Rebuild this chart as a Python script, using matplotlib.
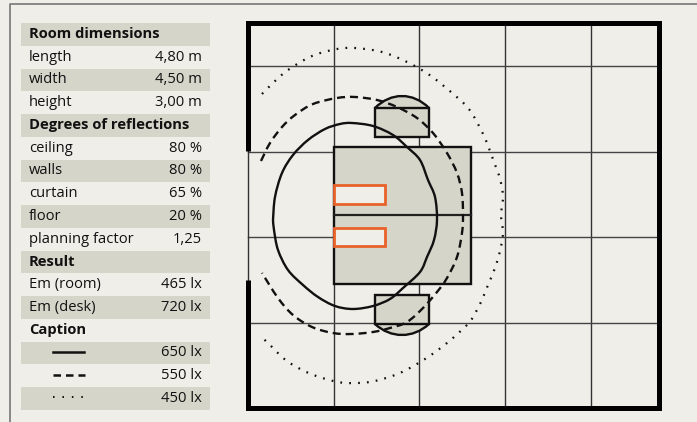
import matplotlib
matplotlib.use("Agg")
import matplotlib.pyplot as plt
from matplotlib.patches import PathPatch, Rectangle
from matplotlib.path import Path

# table
row_labels = ["Room dimensions", "length", "width", "height", "Degrees of reflections",
              "ceiling", "walls", "curtain", "floor", "planning factor", "Result",
              "Em (room)", "Em (desk)", "Caption", "", "", ""]
row_values = ["", "4,80 m", "4,50 m", "3,00 m", "", "80 %", "80 %", "65 %", "20 %", "1,25", "",
              "465 lx", "720 lx", "", "650 lx", "550 lx", "450 lx"]
bold_rows = ["Room dimensions", "Degrees of reflections", "Result", "Caption"]

# room plan, in picture pixels
grid_x = [333.5, 419, 505, 590.5]
grid_y = [66, 151.5, 237, 322.5]

solid_x = [273, 275, 282, 293, 308, 325, 340, 352, 373, 393, 407, 420, 428, 435, 437, 434, 427, 420, 403,
           390, 373, 353, 335, 318, 303, 288, 278, 274, 273]
solid_y = [220, 197, 173, 155, 140, 129, 124, 123, 126, 135, 147, 160, 180, 197, 220, 240, 257, 272, 288,
           299, 306, 309, 306, 297, 285, 270, 250, 230, 220]

dash_x = [261, 270, 282, 295, 313, 337, 355, 377, 397, 417, 433, 447, 457, 462, 463, 462, 457, 447,
          437, 423, 407, 390, 373, 352, 333, 312, 293, 278, 262]
dash_y = [161, 143, 127, 115, 104, 98, 97, 100, 107, 118, 133, 153, 173, 193, 215, 233, 257, 278,
          292, 308, 322, 328, 332, 334, 333, 327, 315, 298, 273]

dot_x = [262, 274, 288, 312, 337, 355, 382, 407, 431, 459, 471, 484, 494, 500, 503, 501, 503, 500,
         495, 488, 481, 473, 467, 447, 425, 400, 375, 357, 338, 311, 287, 267, 261]
dot_y = [94, 82, 70, 56, 49, 48, 52, 62, 76, 99, 112, 136, 162, 179, 197, 215, 233, 251,
         268, 285, 302, 317, 325, 343, 359, 373, 381, 383, 382, 374, 361, 342, 337]

bg = "#efeee9"
band = "#d5d5ca"
orange = "#e8622a"


def smooth(xs, ys):
    # catmull-rom through the read points
    pts = list(zip(xs, ys))
    verts = [pts[0]]
    codes = [Path.MOVETO]
    for i in range(len(pts) - 1):
        p0 = pts[max(i - 1, 0)]
        p1 = pts[i]
        p2 = pts[i + 1]
        p3 = pts[min(i + 2, len(pts) - 1)]
        verts.append((p1[0] + (p2[0] - p0[0]) / 6, p1[1] + (p2[1] - p0[1]) / 6))
        verts.append((p2[0] - (p3[0] - p1[0]) / 6, p2[1] - (p3[1] - p1[1]) / 6))
        verts.append(p2)
        codes += [Path.CURVE4] * 3
    return Path(verts, codes)


def box(x0, y0, x1, y1, **kw):
    ax.add_patch(Rectangle((x0, y0), x1 - x0, y1 - y0, **kw))


def cap(x0, x1, y_base, y_tip):
    # dome on the chairs
    ctrl = y_tip + (y_tip - y_base) * 0.33
    p = Path([(x0, y_base), (x0 + 16, ctrl), (x1 - 16, ctrl), (x1, y_base)],
             [Path.MOVETO, Path.CURVE4, Path.CURVE4, Path.CURVE4])
    ax.add_patch(PathPatch(p, fc=band, ec="#111111", lw=1.7, zorder=3))


plt.rcParams["font.family"] = ["Open Sans", "DejaVu Sans"]

fig = plt.figure(figsize=(6.97, 4.22), dpi=100, facecolor=bg)
ax = fig.add_axes([0, 0, 1, 1])
ax.set_xlim(0, 697)
ax.set_ylim(422, 0)
ax.axis("off")

# page frame
ax.plot([10, 10, 697], [422, 4, 4], color="#777777", lw=1.2)

# table
row_h = 22.75
top = 23
for i in range(len(row_labels)):
    y0 = top + i * row_h
    if i % 2 == 0:
        box(21, y0, 210, y0 + row_h, fc=band, ec="none", zorder=1)
    weight = "bold" if row_labels[i] in bold_rows else "normal"
    ax.text(29, y0 + row_h / 2, row_labels[i], fontsize=10.6, fontweight=weight, va="center", ha="left",
            color="#111111")
    ax.text(202, y0 + row_h / 2, row_values[i], fontsize=10.6, va="center", ha="right", color="#111111")

# caption samples
ys = [top + (14 + k + 0.5) * row_h - 1 for k in range(3)]
ax.plot([53, 84], [ys[0], ys[0]], color="#111111", lw=1.8)
ax.plot([53, 85], [ys[1], ys[1]], color="#111111", lw=1.8, linestyle=(0, (3, 2)))
ax.plot([53, 83], [ys[2], ys[2]], color="#111111", lw=1.4, linestyle=(0, (0.8, 4.05)))

# grid
for x in grid_x:
    ax.plot([x, x], [22, 408], color="#333333", lw=1.0, zorder=2)
for y in grid_y:
    ax.plot([248, 659], [y, y], color="#444444", lw=1.0, zorder=2)

# walls
ax.plot([248, 248], [151, 280], color="#333333", lw=1.0, zorder=2)
ax.plot([248, 248, 658.7, 658.7, 248, 248], [151, 23, 23, 408.3, 408.3, 280], color="black", lw=3.6,
        solid_joinstyle="miter", solid_capstyle="butt", zorder=5)

# desk
box(333.5, 147, 470.5, 284, fc=band, ec="#111111", lw=1.7, zorder=2.5)
ax.plot([333.5, 470.5], [215, 215], color="#222222", lw=1.6, zorder=2.6)
box(333.5, 185, 385, 203.5, fc=bg, ec=orange, lw=2, zorder=3)
box(333.5, 228, 385, 246, fc=bg, ec=orange, lw=2, zorder=3)

# chairs
cap(375, 429, 108, 96)
box(375, 108, 429, 137, fc=band, ec="#111111", lw=1.7, zorder=3)
cap(375, 429, 324, 335)
box(375, 295, 429, 324, fc=band, ec="#111111", lw=1.7, zorder=3)

# isolux lines
ax.add_patch(PathPatch(smooth(solid_x, solid_y), fc="none", ec="#111111", lw=1.7, zorder=4))
ax.add_patch(PathPatch(smooth(dash_x, dash_y), fc="none", ec="#111111", lw=1.7, linestyle=(0, (3.4, 2.1)),
                       zorder=4))
ax.add_patch(PathPatch(smooth(dot_x, dot_y), fc="none", ec="#111111", lw=1.6, linestyle=(0, (0.8, 3.2)),
                       zorder=4))

fig.savefig("out.png", dpi=100, facecolor=bg)
